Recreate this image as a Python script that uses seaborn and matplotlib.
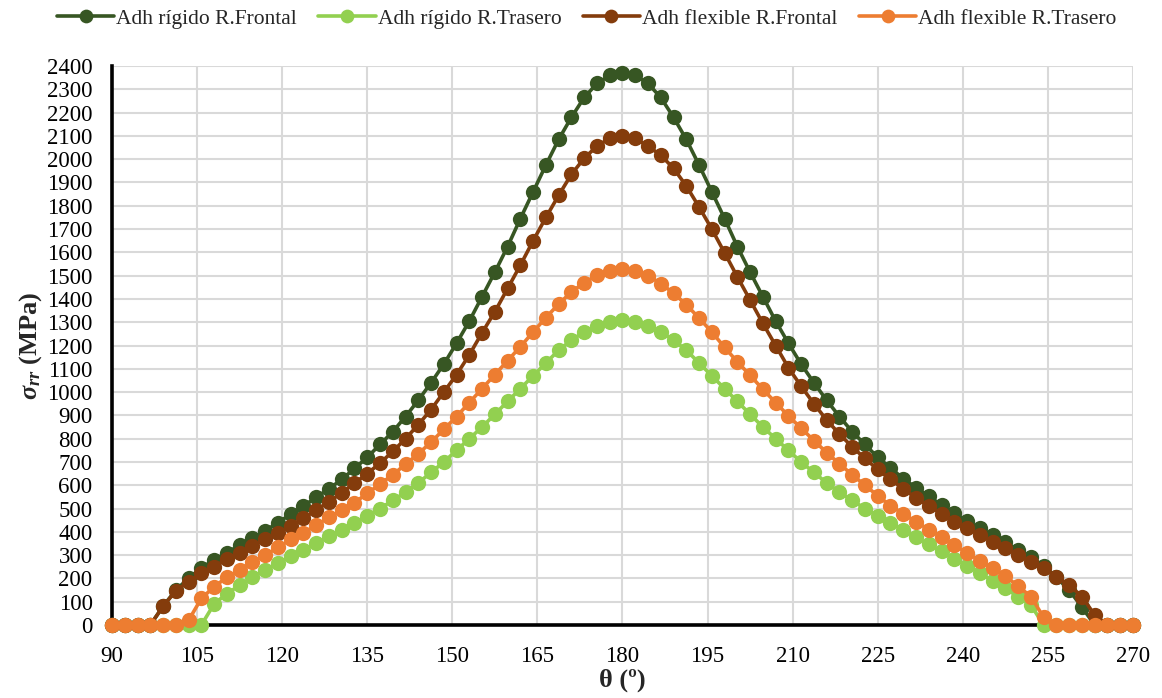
import numpy as np
import pandas as pd
import matplotlib
matplotlib.use("Agg")
import matplotlib.pyplot as plt
import seaborn as sns

# angles: 90..270 every 2.25 degrees (81 points)
theta = np.arange(90, 270.001, 2.25)

rig_front = [0, 0, 0, 0, 80, 150, 200, 245, 280, 310, 343, 372, 405, 439, 476, 511, 548, 585, 625, 672,
             720, 775, 830, 895, 965, 1040, 1120, 1210, 1305, 1410, 1515, 1625, 1745, 1860, 1975, 2085,
             2180, 2265, 2325, 2360, 2370,
             2360, 2325, 2265, 2180, 2085, 1975, 1860, 1745, 1625, 1515, 1410, 1305, 1210, 1120, 1040,
             965, 895, 830, 775, 720,
             675, 628, 590, 552, 515, 482, 445, 416, 386, 355, 322, 290, 255, 205, 150, 77, 0, 0, 0, 0]

rig_rear = [0, 0, 0, 0, 0, 0, 0, 0, 90, 135, 170, 205, 237, 266, 295, 323, 351, 380, 408, 437,
            470, 500, 535, 570, 610, 655, 700, 750, 800, 850, 905, 960, 1015, 1070, 1125, 1180,
            1223, 1259, 1285, 1302, 1309,
            1302, 1285, 1259, 1223, 1180, 1125, 1070, 1015, 960, 905, 850, 800, 750, 700, 655,
            610, 570, 535, 500, 470,
            440, 408, 376, 347, 316, 285, 255, 222, 190, 157, 122, 86, 0, 0, 0, 0, 0, 0, 0, 0]

flex_front = [0, 0, 0, 0, 80, 147, 186, 222, 250, 282, 310, 339, 368, 393, 425, 458, 494, 529, 568, 609,
              650, 695, 745, 800, 860, 925, 1000, 1075, 1160, 1255, 1345, 1445, 1545, 1650, 1750, 1845,
              1935, 2004, 2056, 2090, 2100,
              2090, 2056, 2017, 1961, 1885, 1795, 1700, 1598, 1495, 1395, 1295, 1200, 1105, 1025, 950,
              880, 820, 765, 715, 668,
              625, 585, 545, 510, 478, 443, 416, 386, 358, 330, 300, 272, 243, 207, 172, 122, 43, 0, 0, 0]

flex_rear = [0, 0, 0, 0, 0, 0, 20, 114, 164, 205, 236, 272, 300, 333, 368, 396, 429, 462, 494, 525,
             565, 605, 645, 690, 735, 785, 840, 895, 955, 1015, 1075, 1135, 1195, 1258, 1320, 1378,
             1430, 1470, 1502, 1522, 1530,
             1522, 1500, 1466, 1425, 1375, 1318, 1258, 1192, 1130, 1072, 1012, 955, 898, 845, 792,
             740, 692, 645, 600, 555,
             512, 478, 443, 410, 378, 343, 310, 276, 243, 210, 167, 122, 33, 0, 0, 0, 0, 0, 0, 0]

series_names = ["Adh rígido R.Frontal", "Adh rígido R.Trasero",
                "Adh flexible R.Frontal", "Adh flexible R.Trasero"]
series_vals = [rig_front, rig_rear, flex_front, flex_rear]
colors = ["#375623", "#92D050", "#843C0C", "#ED7D31"]

x_ticks = list(range(90, 271, 15))
y_ticks = list(range(0, 2401, 100))

sns.set_theme(style="whitegrid")
plt.rcParams["font.family"] = ["Liberation Serif", "DejaVu Serif"]
plt.rcParams["mathtext.fontset"] = "custom"
plt.rcParams["mathtext.rm"] = "Liberation Serif:bold"
plt.rcParams["mathtext.it"] = "Liberation Serif:bold:italic"
plt.rcParams["mathtext.bf"] = "Liberation Serif:bold:italic"
plt.rcParams["mathtext.default"] = "it"

fig = plt.figure(figsize=(11.62, 6.98), dpi=100)
ax = fig.add_axes([0.0964, 0.1046, 0.975 - 0.0964, 0.9054 - 0.1046])

for name, vals, col in zip(series_names, series_vals, colors):
    df = pd.DataFrame({"theta": theta, "val": vals})
    sns.lineplot(data=df, x="theta", y="val", ax=ax, color=col, linewidth=2.6,
                 marker="o", markersize=11, markeredgewidth=0, label=name,
                 clip_on=False, zorder=3)

ax.set_xlim(90, 270)
ax.set_ylim(0, 2400)
ax.set_xticks(x_ticks)
ax.set_yticks(y_ticks)
ax.tick_params(axis="both", length=0, labelsize=16.5, colors="black")
ax.tick_params(axis="y", pad=14)
ax.tick_params(axis="x", pad=15)
ax.grid(True, color="#D9D9D9", linewidth=1.5)
ax.set_facecolor("white")
for s in ["top", "right"]:
    ax.spines[s].set_visible(False)
for s in ["left", "bottom"]:
    ax.spines[s].set_visible(True)
    ax.spines[s].set_color("black")
    ax.spines[s].set_linewidth(2.6)
    ax.spines[s].set_zorder(2.5)

ax.set_xlabel("θ (º)", fontsize=19, fontweight="bold", labelpad=1)
ax.set_ylabel(r"$\sigma_{rr}$ (MPa)", fontsize=19, fontweight="bold", labelpad=2)

handles, labels = ax.get_legend_handles_labels()
ax.get_legend().remove()
fig.legend(handles, labels, loc="upper center", bbox_to_anchor=(0.505, 1.015), ncol=4,
           frameon=False, fontsize=15.5, handlelength=2.65, columnspacing=1.0, handletextpad=0.1,
           markerscale=0.9)

fig.savefig("out.png", dpi=100, facecolor="white")
